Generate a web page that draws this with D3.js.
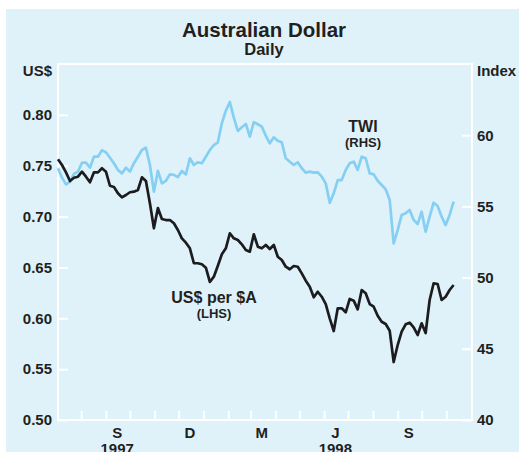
<!DOCTYPE html>
<html>
<head>
<meta charset="utf-8">
<script src="https://cdn.jsdelivr.net/npm/d3@7"></script>
<style>
  body { margin: 0; background: #fff; }
  svg text { font-family: "Liberation Sans", Arial, Helvetica, sans-serif; font-weight: bold; fill: #231f20; }
</style>
</head>
<body>
<svg id="chart" width="519" height="452"></svg>
<script>
// sampled every 5 days from 3 Jul 1997
const startDate = new Date(1997, 6, 3);
const stepDays = 5;

const usdValues = [
    0.7563, 0.7507, 0.7435, 0.7350, 0.7382, 0.7392, 0.7441, 0.7392, 0.7337, 0.7435,
    0.7435, 0.7475, 0.7441, 0.7303, 0.7291, 0.7229, 0.7189, 0.7212, 0.7239, 0.7245,
    0.7261, 0.7386, 0.7350, 0.7130, 0.6885, 0.7084, 0.6976, 0.6966, 0.6966, 0.6934,
    0.6868, 0.6786, 0.6743, 0.6688, 0.6541, 0.6541, 0.6531, 0.6497, 0.6357, 0.6409,
    0.6517, 0.6629, 0.6688, 0.6836, 0.6786, 0.6770, 0.6727, 0.6671, 0.6655, 0.6826,
    0.6704, 0.6688, 0.6721, 0.6681, 0.6721, 0.6605, 0.6573, 0.6507, 0.6482, 0.6514,
    0.6507, 0.6442, 0.6370, 0.6311, 0.6206, 0.6261, 0.6212, 0.6140, 0.6000, 0.5875,
    0.6098, 0.6098, 0.6059, 0.6190, 0.6173, 0.6088, 0.6278, 0.6246, 0.6140, 0.6114,
    0.6025, 0.5966, 0.5944, 0.5878, 0.5570, 0.5737, 0.5868, 0.5941, 0.5957, 0.5911,
    0.5836, 0.5951, 0.5855, 0.6180, 0.6344, 0.6337, 0.6180, 0.6212, 0.6278, 0.6327
];

const twiValues = [
    57.68, 57.02, 56.55, 56.73, 57.28, 57.44, 58.07, 58.07, 57.72, 58.49,
    58.49, 58.94, 58.80, 58.42, 58.03, 57.56, 57.32, 57.72, 57.44, 58.03,
    58.49, 58.96, 59.12, 57.91, 56.03, 57.49, 56.62, 56.80, 57.25, 57.21,
    57.06, 57.49, 57.25, 58.38, 57.91, 58.10, 58.03, 58.49, 58.96, 59.31,
    59.50, 60.84, 61.72, 62.33, 61.23, 60.30, 60.56, 60.79, 59.90, 60.91,
    60.77, 60.60, 59.97, 59.43, 59.85, 59.61, 59.50, 58.38, 58.14, 57.91,
    58.10, 57.68, 57.37, 57.44, 57.37, 57.39, 57.09, 56.62, 55.24, 55.92,
    56.85, 56.85, 57.56, 58.03, 58.14, 57.56, 58.49, 58.38, 57.32, 57.25,
    56.80, 56.50, 56.20, 55.45, 52.41, 53.34, 54.40, 54.52, 54.75, 54.05,
    53.76, 54.63, 53.22, 54.28, 55.26, 55.03, 54.28, 53.69, 54.40, 55.33
];

const leftTicks = [0.50, 0.55, 0.60, 0.65, 0.70, 0.75, 0.80];
const rightTicks = [40, 45, 50, 55, 60];
const quarterLabels = ["S", "D", "M", "J", "S"];
const quarterDates = ["1997-09-15", "1997-12-15", "1998-03-15", "1998-06-15", "1998-09-15"];
const yearLabels = ["1997", "1998"];
const yearDates = ["1997-09-15", "1998-06-15"];

const parseDate = d3.timeParse("%Y-%m-%d");
const svg = d3.select("#chart");

const plotLeft = 58, plotRight = 472, plotTop = 64, plotBottom = 420;

// background panel
svg.append("rect")
   .attr("x", 6)
   .attr("y", 9)
   .attr("width", 513)
   .attr("height", 443)
   .attr("fill", "#dff2fa");

const x = d3.scaleTime()
    .domain([new Date(1997, 6, 3), new Date(1998, 11, 3)])
    .range([plotLeft, plotRight]);

const yL = d3.scaleLinear().domain([0.50, 0.85]).range([plotBottom, plotTop]);
const yR = d3.scaleLinear().domain([40, 65]).range([plotBottom, plotTop]);

const styleAxis = g => {
    g.select(".domain").remove();
    g.selectAll("line").attr("stroke", "#fff").attr("stroke-width", 2);
    g.attr("font-size", 15);
};

svg.append("g")
   .attr("transform", `translate(${plotLeft},0)`)
   .call(d3.axisLeft(yL).tickValues(leftTicks).tickSize(-10).tickPadding(6).tickFormat(d3.format(".2f")))
   .call(styleAxis);

svg.append("g")
   .attr("transform", `translate(${plotRight},0)`)
   .call(d3.axisRight(yR).tickValues(rightTicks).tickSize(-10).tickPadding(5))
   .call(styleAxis);

svg.append("g")
   .attr("transform", `translate(0,${plotBottom})`)
   .call(d3.axisBottom(x)
           .tickValues(d3.timeMonth.range(new Date(1997, 7, 1), new Date(1998, 11, 1)))
           .tickSize(-9)
           .tickFormat(""))
   .call(styleAxis);

// frame
svg.append("rect")
   .attr("x", plotLeft)
   .attr("y", plotTop)
   .attr("width", plotRight - plotLeft)
   .attr("height", plotBottom - plotTop)
   .attr("fill", "none")
   .attr("stroke", "#fff")
   .attr("stroke-width", 2);

// lines
const dates = usdValues.map((v, i) => d3.timeDay.offset(startDate, i * stepDays));

svg.append("path")
   .datum(twiValues)
   .attr("fill", "none")
   .attr("stroke", "#85d0f2")
   .attr("stroke-width", 2.7)
   .attr("stroke-linejoin", "round")
   .attr("d", d3.line().x((d, i) => x(dates[i])).y(d => yR(d)));

svg.append("path")
   .datum(usdValues)
   .attr("fill", "none")
   .attr("stroke", "#1c1c1e")
   .attr("stroke-width", 2.7)
   .attr("stroke-linejoin", "round")
   .attr("d", d3.line().x((d, i) => x(dates[i])).y(d => yL(d)));

// x labels (years sit partly below the page edge, as in the original)
svg.selectAll(".q-label")
   .data(quarterLabels)
   .enter()
   .append("text")
   .attr("class", "q-label")
   .attr("x", (d, i) => x(parseDate(quarterDates[i])))
   .attr("y", 438)
   .attr("text-anchor", "middle")
   .style("font-size", "15px")
   .text(d => d);

svg.selectAll(".y-label")
   .data(yearLabels)
   .enter()
   .append("text")
   .attr("class", "y-label")
   .attr("x", (d, i) => x(parseDate(yearDates[i])))
   .attr("y", 454)
   .attr("text-anchor", "middle")
   .style("font-size", "15px")
   .text(d => d);

// titles
svg.append("text")
   .attr("x", 264)
   .attr("y", 37)
   .attr("text-anchor", "middle")
   .style("font-size", "20.5px")
   .text("Australian Dollar");

svg.append("text")
   .attr("x", 264)
   .attr("y", 55)
   .attr("text-anchor", "middle")
   .style("font-size", "16.5px")
   .text("Daily");

svg.append("text")
   .attr("x", 52)
   .attr("y", 76)
   .attr("text-anchor", "end")
   .style("font-size", "15px")
   .text("US$");

svg.append("text")
   .attr("x", 477)
   .attr("y", 76)
   .style("font-size", "15px")
   .text("Index");

// series labels
svg.append("text")
   .attr("x", 363)
   .attr("y", 131.5)
   .attr("text-anchor", "middle")
   .style("font-size", "16px")
   .text("TWI");

svg.append("text")
   .attr("x", 363)
   .attr("y", 146.5)
   .attr("text-anchor", "middle")
   .style("font-size", "13px")
   .text("(RHS)");

svg.append("text")
   .attr("x", 214)
   .attr("y", 303)
   .attr("text-anchor", "middle")
   .style("font-size", "16px")
   .text("US$ per $A");

svg.append("text")
   .attr("x", 214)
   .attr("y", 318)
   .attr("text-anchor", "middle")
   .style("font-size", "13px")
   .text("(LHS)");
</script>
</body>
</html>
